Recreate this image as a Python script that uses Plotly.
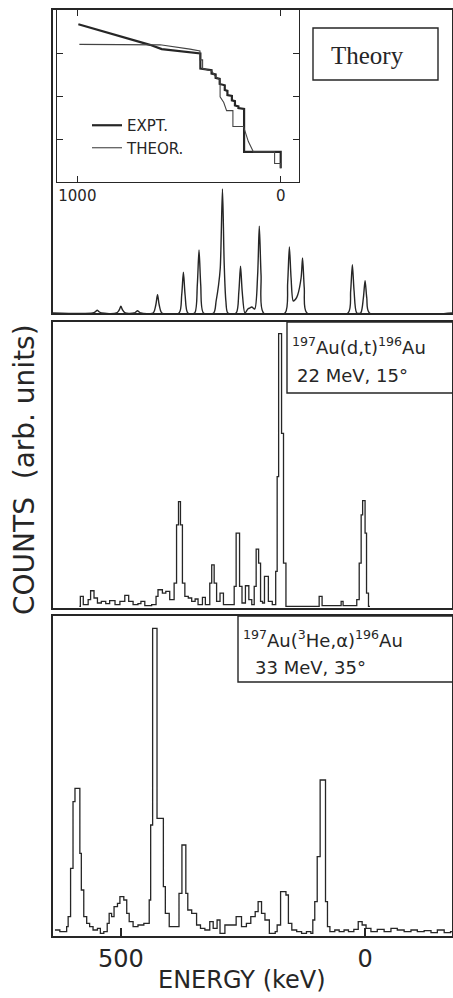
import plotly.graph_objects as go

# ---------------- data ----------------
# Theory spectrum (computed line shape): energy (keV) and counts (arb.)
theory_energy = [639, 557.5, 552, 548.5, 545, 539.5,
                 509, 503.5, 500, 496.5, 491,
                 473, 469.5, 466, 462.5, 459,
                 434, 428.5, 425, 421.5, 416,
                 381, 375.5, 372, 368.5, 363,
                 349, 343.5, 340, 336.5, 331,
                 310, 305, 300, 296.5, 292, 288.5, 285, 281,
                 264, 258.5, 255, 251.5, 246,
                 240, 236, 232,
                 226, 220, 216.6, 213, 208,
                 164, 158.5, 155, 151.5, 147, 142, 138, 131, 128, 124.5, 119,
                 35, 29.5, 26, 22.5, 17,
                 9, 3.5, 0, -3.5, -9, -178]
theory_counts = [0, 0, 1.3, 2.7, 1.3, 0,
                 0, 3, 6.7, 3, 0,
                 0, 1, 2.3, 1, 0,
                 0, 8, 18.3, 8, 0,
                 0, 18, 40.7, 18, 0,
                 0, 28, 63, 28, 0,
                 0, 12, 28, 45, 124, 50, 12, 0,
                 0, 21, 46.7, 21, 0,
                 4, 5, 6,
                 4, 38, 86.7, 38, 0,
                 0, 30, 66, 35, 12, 14, 18, 35, 55, 25, 0,
                 0, 22, 48.3, 22, 0,
                 0, 15, 32.3, 15, 0, 0]

# 197Au(d,t)196Au, 22 MeV, 15 deg  (step histogram: bin edge energy, counts)
dt_energy = [585, 583, 577, 567, 562, 555, 548, 540, 531, 523, 512, 502, 492, 484,
             475, 465, 459, 451, 437, 428, 424, 415, 408, 400, 391, 386, 382, 378,
             374, 369, 362, 355, 348, 342, 333, 327, 318, 314, 309, 304, 297, 290,
             268, 264, 257, 252, 245, 238, 232, 227, 223, 218, 214, 210, 206, 198,
             190, 183, 180, 177, 171, 167, 162, 94, 88, 49, 45, 17, 12, 8, 5, 0,
             -3, -7, -10]
dt_counts = [1.7, 11.7, 3.3, 8.3, 17.3, 10, 5, 6.7, 4.3, 7.3, 3.3, 6.7, 12.7, 6.7,
             3.3, 4.3, 6.7, 2.3, 3.3, 11.7, 18.3, 15, 16.7, 8.3, 25, 83.3, 106.7, 83.3,
             25, 11.7, 10, 6.7, 9, 3.3, 10.7, 3.3, 25, 43.3, 25, 6.7, 15, 3.3,
             21.7, 75, 21.7, 5, 22.3, 8.3, 3.3, 21.7, 59, 45, 6.7, 5, 31.7, 6.7,
             3.3, 36.7, 131.7, 275, 175, 45, 1.7, 11.7, 2.3, 6.7, 2.3, 8.3, 45, 93.3, 107.7, 75,
             15, 1.7, 1.7]

# 197Au(3He,alpha)196Au, 33 MeV, 35 deg
he_energy = [635, 625, 611, 608, 603, 598, 594, 584, 581, 576, 570, 564, 557, 548,
             542, 535, 528, 524, 519, 514, 507, 502, 494, 488, 483, 475, 465, 453,
             442, 439, 435, 426, 413, 409, 401, 381, 375, 367, 363, 355, 345, 337,
             328, 318, 311, 303, 297, 287, 264, 253, 243, 234, 225, 219, 212, 205,
             196, 184, 180, 173, 162, 157, 150, 140, 130, 120, 111, 107, 103, 98,
             92, 81, 77, 72, 62, 53, 43, 34, 23, 14, 6, -2, -12, -25, -39, -53,
             -66, -80, -94, -107, -121, -135, -148, -162, -175, -178]
he_counts = [6, 4.3, 9.3, 19.3, 67.7, 134.3, 147.7, 82.7, 46, 19.3, 12.7, 9.3, 6, 7.7,
             2.7, 4.3, 12.7, 22.7, 19.3, 29.3, 32.7, 39.3, 36, 22.7, 14.3, 9.3, 11, 12.7,
             36, 111, 307.7, 117.7, 49.3, 22.7, 9.3, 42.7, 91, 42.7, 26, 22.7, 11, 7.7,
             6, 14.3, 7.7, 16, 2.7, 11, 19.3, 9.3, 12.7, 19.3, 24.3, 34.3, 22.7, 16,
             2.7, 4.3, 11, 44.3, 41, 12.7, 6, 4.3, 2.7, 4.3, 2.7, 16, 34.3, 79.3,
             156, 34.3, 9.3, 4.3, 6, 4.3, 6, 4.3, 6.7, 14.3, 11, 7.7, 4.3, 6.7, 4.3, 7.7,
             6, 4.3, 6, 4.3, 5.3, 3.3, 6, 3.3, 4.3, 4.3]

# Inset: cumulative level comparison
expt_energy = [995, 643, 585, 495, 395, 395, 340, 340, 320, 320, 300, 300, 275, 275,
               262, 262, 240, 240, 225, 225, 208, 208, 180, 180, 0, 0]
expt_level = [3.67, 3.19, 3.09, 3.05, 2.99, 2.64, 2.60, 2.52, 2.50, 2.42, 2.40, 2.28,
              2.25, 2.14, 2.12, 2.02, 2.0, 1.90, 1.88, 1.78, 1.76, 1.72, 1.70, 0.70,
              0.70, 0.32]
theor_energy = [990, 593, 446, 397, 397, 384, 384, 340, 320, 298, 298, 280, 266, 235,
                235, 183, 170, 159, 134, 30, 30, 0, 0]
theor_level = [3.2, 3.19, 3.09, 3.05, 2.84, 2.84, 2.64, 2.58, 2.45, 2.37, 1.98, 1.85,
               1.66, 1.66, 1.29, 1.29, 1.10, 0.94, 0.70, 0.70, 0.43, 0.43, 0.32]

x_ticks = [500, 0]
x_tick_text = ["500", "0"]
inset_ticks = [1000, 0]
inset_tick_text = ["1000", "0"]

# ---------------- figure ----------------
W, H = 453, 998
INK = "#262626"
SANS = "DejaVu Sans"


def px_x(p):
    return p / W


def px_y(p):
    return 1 - p / H


fig = go.Figure()

fig.add_trace(go.Scatter(x=theory_energy, y=theory_counts, mode="lines",
                         line=dict(color=INK, width=1.4, shape="spline", smoothing=0.8),
                         xaxis="x", yaxis="y", showlegend=False, hoverinfo="skip"))
fig.add_trace(go.Scatter(x=dt_energy, y=dt_counts, mode="lines",
                         line=dict(color=INK, width=1.3, shape="hv"),
                         xaxis="x2", yaxis="y2", showlegend=False, hoverinfo="skip"))
fig.add_trace(go.Scatter(x=he_energy, y=he_counts, mode="lines",
                         line=dict(color=INK, width=1.3, shape="hv"),
                         xaxis="x3", yaxis="y3", showlegend=False, hoverinfo="skip"))
fig.add_trace(go.Scatter(x=expt_energy, y=expt_level, mode="lines", name="EXPT.",
                         line=dict(color=INK, width=2.2),
                         xaxis="x4", yaxis="y4", hoverinfo="skip"))
fig.add_trace(go.Scatter(x=theor_energy, y=theor_level, mode="lines", name="THEOR.",
                         line=dict(color="#444444", width=1.1),
                         xaxis="x4", yaxis="y4", hoverinfo="skip"))

frame = dict(showline=True, mirror=True, linecolor=INK, linewidth=1.5,
             showgrid=False, zeroline=False, ticks="", showticklabels=False)
x_dom = [px_x(53), px_x(452)]
x_rng = [639, -178]

fig.update_layout(
    width=W, height=H,
    margin=dict(l=0, r=0, t=0, b=0),
    paper_bgcolor="white", plot_bgcolor="rgba(0,0,0,0)",
    font=dict(family=SANS, color=INK),
    xaxis=dict(frame, domain=x_dom, range=x_rng, anchor="y"),
    yaxis=dict(frame, domain=[px_y(313), px_y(10)], range=[0, 303], anchor="x"),
    xaxis2=dict(frame, domain=x_dom, range=x_rng, anchor="y2"),
    yaxis2=dict(frame, domain=[px_y(608), px_y(322)], range=[0, 286.7], anchor="x2"),
    xaxis3=dict(frame, domain=x_dom, range=x_rng, anchor="y3",
                ticks="inside", ticklen=8, tickwidth=1.5, tickcolor=INK,
                tickvals=x_ticks, ticktext=x_tick_text, showticklabels=True,
                tickfont=dict(family=SANS, size=24, color=INK)),
    yaxis3=dict(frame, domain=[px_y(936), px_y(616)], range=[0, 320], anchor="x3"),
    xaxis4=dict(showline=True, mirror="ticks", linecolor=INK, linewidth=1.3,
                showgrid=False, zeroline=False, domain=[px_x(57), px_x(299)],
                range=[1100, -90], anchor="y4", ticks="inside", ticklen=6,
                tickwidth=1.3, tickcolor=INK, tickvals=inset_ticks,
                ticktext=inset_tick_text, tickfont=dict(family=SANS, size=15, color=INK)),
    yaxis4=dict(showline=True, mirror="ticks", linecolor=INK, linewidth=1.3,
                showgrid=False, zeroline=False, domain=[px_y(182), px_y(10)],
                range=[0, 4], anchor="x4", ticks="inside", ticklen=6,
                tickwidth=1.3, tickcolor=INK, tickvals=[1, 2, 3], showticklabels=False),
    showlegend=True,
    legend=dict(x=px_x(87), y=px_y(109), xanchor="left", yanchor="top",
                bgcolor="rgba(0,0,0,0)", font=dict(family=SANS, size=15, color=INK),
                tracegroupgap=0, itemwidth=30),
)

# label boxes
box_line = dict(color=INK, width=1.4)
fig.add_shape(type="rect", xref="paper", yref="paper",
              x0=px_x(313), x1=px_x(438), y0=px_y(80), y1=px_y(28), line=box_line)
fig.add_shape(type="rect", xref="paper", yref="paper",
              x0=px_x(287), x1=px_x(455), y0=px_y(393), y1=px_y(322), line=box_line)
fig.add_shape(type="rect", xref="paper", yref="paper",
              x0=px_x(238), x1=px_x(455), y0=px_y(682), y1=px_y(616), line=box_line)

ann = []
ann.append(dict(text="Theory", x=px_x(367), y=px_y(55), xanchor="center", yanchor="middle",
                font=dict(family="Liberation Serif", size=25, color=INK)))
ann.append(dict(text="<sup>197</sup>Au(d,t)<sup>196</sup>Au", x=px_x(290), y=px_y(346),
                xanchor="left", yanchor="middle", font=dict(family=SANS, size=18, color=INK)))
ann.append(dict(text="22 MeV, 15°", x=px_x(295), y=px_y(375),
                xanchor="left", yanchor="middle", font=dict(family=SANS, size=18, color=INK)))
ann.append(dict(text="<sup>197</sup>Au(<sup>3</sup>He,α)<sup>196</sup>Au", x=px_x(241), y=px_y(639),
                xanchor="left", yanchor="middle", font=dict(family=SANS, size=18, color=INK)))
ann.append(dict(text="33 MeV, 35°", x=px_x(253), y=px_y(667),
                xanchor="left", yanchor="middle", font=dict(family=SANS, size=18, color=INK)))
ann.append(dict(text="ENERGY (keV)", x=px_x(242), y=px_y(980), xanchor="center",
                yanchor="middle", font=dict(family=SANS, size=24, color=INK)))
ann.append(dict(text="COUNTS  (arb. units)", x=px_x(24), y=px_y(470), xanchor="center",
                yanchor="middle", textangle=-90, font=dict(family=SANS, size=28, color=INK)))
for a in ann:
    a.update(xref="paper", yref="paper", showarrow=False)
fig.update_layout(annotations=ann)

fig.write_html("out.html")
